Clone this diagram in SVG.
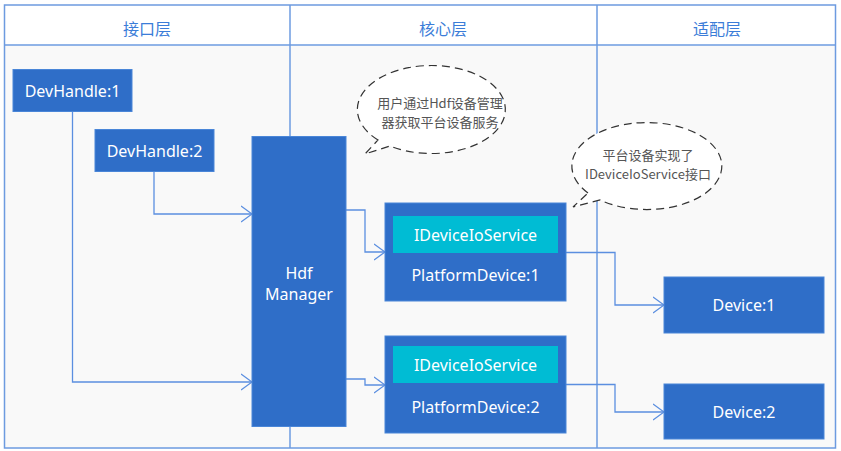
<svg xmlns="http://www.w3.org/2000/svg" width="841" height="451" viewBox="0 0 841 451">
<defs>
<marker id="arr" viewBox="0 0 12 18" refX="11" refY="9" markerWidth="12" markerHeight="18" markerUnits="userSpaceOnUse" orient="auto">
<path d="M0,1 L11,9 L0,17" fill="none" stroke="#5b8fe0" stroke-width="1.3"/>
</marker>
<style>
.frame{fill:none;stroke:#6d9be0;stroke-width:1.5}
.div{stroke:#6d9be0;stroke-width:1.5;fill:none}
.hdr{font-family:"Noto Sans CJK SC","Noto Sans",sans-serif;font-size:16px;fill:#3b7dd8;text-anchor:middle}
.node{fill:#2f6ec8;stroke:#4a86d8;stroke-width:1}
.inner{fill:#00bcd4}
.nt{font-family:"Noto Sans","Noto Sans CJK SC",sans-serif;font-size:16px;fill:#ffffff;text-anchor:middle}
.conn{fill:none;stroke:#5b8fe0;stroke-width:1.3}
.bub{fill:#ffffff;stroke:#333333;stroke-width:1.2;stroke-dasharray:8,5}
.bt{font-family:"Noto Sans CJK SC","Noto Sans",sans-serif;font-size:13px;fill:#555555;text-anchor:middle}
</style>
</defs>
<rect x="0" y="0" width="841" height="451" fill="#ffffff"/>
<rect x="4.5" y="45" width="831" height="403" fill="#f9f9f9"/>
<g id="frame">
<rect class="frame" x="4.5" y="5" width="831" height="443"/>
<line class="div" x1="4.5" y1="45" x2="835.5" y2="45"/>
<line class="div" x1="290" y1="5" x2="290" y2="448"/>
<line class="div" x1="597" y1="5" x2="597" y2="448"/>
<text class="hdr" x="147" y="35">接口层</text>
<text class="hdr" x="443" y="35">核心层</text>
<text class="hdr" x="717" y="35">适配层</text>
</g>
<g id="connectors">
<path class="conn" d="M154,171 V214 H252" marker-end="url(#arr)"/>
<path class="conn" d="M72.5,111 V382 H252" marker-end="url(#arr)"/>
<path class="conn" d="M346,210 H365 V252 H385" marker-end="url(#arr)"/>
<path class="conn" d="M346,379 H365 V385 H385" marker-end="url(#arr)"/>
<path class="conn" d="M566,252.5 H615 V305 H664" marker-end="url(#arr)"/>
<path class="conn" d="M566,384.5 H615 V412 H664" marker-end="url(#arr)"/>
</g>
<g id="devhandle1">
<rect class="node" x="13" y="69.5" width="119" height="42"/>
<text class="nt" x="72.5" y="96.5">DevHandle:1</text>
</g>
<g id="devhandle2">
<rect class="node" x="95" y="129.5" width="119" height="42"/>
<text class="nt" x="154.5" y="156.5">DevHandle:2</text>
</g>
<g id="hdfmanager">
<rect class="node" x="252" y="136.5" width="94" height="290"/>
<text class="nt" x="299" y="279">Hdf</text>
<text class="nt" x="299" y="300">Manager</text>
</g>
<g id="platformdevice1">
<rect class="node" x="385" y="203" width="181" height="98"/>
<rect class="inner" x="393" y="216" width="165" height="37"/>
<text class="nt" x="475.5" y="240.5">IDeviceIoService</text>
<text class="nt" x="475.5" y="280.5">PlatformDevice:1</text>
</g>
<g id="platformdevice2">
<rect class="node" x="385" y="336" width="181" height="97"/>
<rect class="inner" x="393" y="346" width="165" height="37"/>
<text class="nt" x="475.5" y="370.5">IDeviceIoService</text>
<text class="nt" x="475.5" y="412.5">PlatformDevice:2</text>
</g>
<g id="device1">
<rect class="node" x="664" y="277" width="160" height="56"/>
<text class="nt" x="744" y="310.5">Device:1</text>
</g>
<g id="device2">
<rect class="node" x="664" y="384" width="160" height="55"/>
<text class="nt" x="744" y="417.5">Device:2</text>
</g>
<g id="bubble1">
<path class="bub" d="M378,140 A74,44 0 1 1 390,146 L365,154 Z"/>
<text class="bt" x="440" y="107.5">用户通过Hdf设备管理</text>
<text class="bt" x="440" y="126.5">器获取平台设备服务</text>
</g>
<g id="bubble2">
<path class="bub" d="M588,193 A75,43.5 0 1 1 600,200 L573,207 Z"/>
<text class="bt" x="648" y="160">平台设备实现了</text>
<text class="bt" x="648" y="179">IDeviceIoService接口</text>
</g>
</svg>
